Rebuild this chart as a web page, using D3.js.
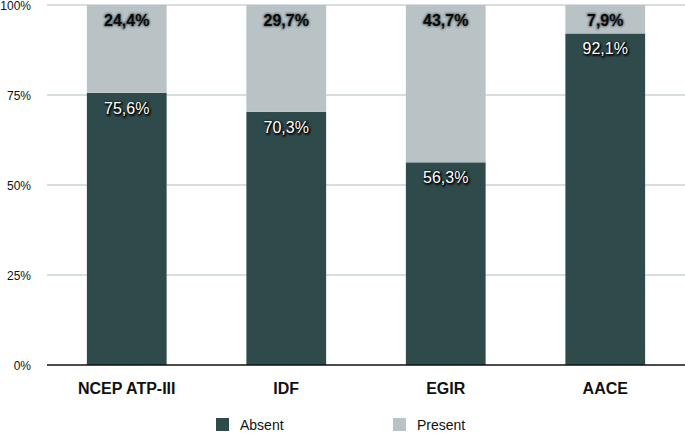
<!doctype html>
<html lang="en">
<head>
<meta charset="utf-8">
<script src="https://cdn.jsdelivr.net/npm/d3@7"></script>
<style>
  body { margin: 0; background: #fff; }
  text { font-family: "Liberation Sans", Arial, Helvetica, sans-serif; }
</style>
</head>
<body>
<div id="chart"></div>
<script>
var categories = ["NCEP ATP-III", "IDF", "EGIR", "AACE"];
var absent = [75.6, 70.3, 56.3, 92.1];
var present = [24.4, 29.7, 43.7, 7.9];
var yTicks = [0, 25, 50, 75, 100];
var seriesNames = ["Absent", "Present"];
var colors = ["#2f4a4b", "#b9c3c6"];

var width = 685, height = 433;
var margin = {top: 5, right: 0, bottom: 68, left: 47};

var svg = d3.select("#chart").append("svg")
    .attr("width", width).attr("height", height);

// soft blur used for the label shadows
svg.append("defs").append("filter").attr("id", "blur")
    .attr("x", "-30%").attr("y", "-60%").attr("width", "160%").attr("height", "220%")
  .append("feGaussianBlur").attr("stdDeviation", 1.3);

var x = d3.scaleBand().domain(categories)
    .range([margin.left, width - margin.right]).paddingInner(0.5).paddingOuter(0.25);
var y = d3.scaleLinear().domain([0, 100]).range([height - margin.bottom, margin.top]);

// grid
svg.append("g").selectAll("line").data(yTicks.filter(function(d){ return d > 0; }))
  .enter().append("line")
    .attr("x1", margin.left).attr("x2", width)
    .attr("y1", function(d){ return y(d); }).attr("y2", function(d){ return y(d); })
    .attr("stroke", "#aebdc2").attr("stroke-width", 1);

// y labels
svg.append("g").selectAll("text").data(yTicks).enter().append("text")
    .attr("x", 31).attr("y", function(d){ return y(d) + 5; })
    .attr("text-anchor", "end").attr("font-size", 12).attr("fill", "#111")
    .text(function(d){ return d + "%"; });

// bars
var data = categories.map(function(c, i){ return {cat: c, absent: absent[i], present: present[i]}; });

svg.append("g").selectAll("rect").data(data).enter().append("rect")
    .attr("x", function(d){ return x(d.cat); }).attr("width", x.bandwidth())
    .attr("y", function(d){ return y(d.absent); })
    .attr("height", function(d){ return y(0) - y(d.absent); })
    .attr("fill", colors[0]);

svg.append("g").selectAll("rect").data(data).enter().append("rect")
    .attr("x", function(d){ return x(d.cat); }).attr("width", x.bandwidth())
    .attr("y", function(d){ return y(d.absent + d.present); })
    .attr("height", function(d){ return y(d.absent) - y(d.absent + d.present); })
    .attr("fill", colors[1]);

// zero line
svg.append("line").attr("x1", margin.left).attr("x2", width)
    .attr("y1", y(0)).attr("y2", y(0)).attr("stroke", "#111").attr("stroke-width", 1.5);

function fmt(v){ return v.toFixed(1).replace(".", ",") + "%"; }

function labels(key, yPos, weight, fill, shade, dx, dy) {
  var g = svg.append("g");
  // shadow copy
  g.selectAll("text.s").data(data).enter().append("text")
      .attr("x", function(d){ return x(d.cat) + x.bandwidth() / 2 + dx; })
      .attr("y", function(d){ return yPos(d) + dy; })
      .attr("text-anchor", "middle").attr("font-size", 16).attr("font-weight", weight)
      .attr("fill", shade).attr("stroke", shade).attr("stroke-width", 1.5)
      .attr("filter", "url(#blur)")
      .text(function(d){ return fmt(d[key]); });
  g.selectAll("text.t").data(data).enter().append("text")
      .attr("x", function(d){ return x(d.cat) + x.bandwidth() / 2; })
      .attr("y", function(d){ return yPos(d); })
      .attr("text-anchor", "middle").attr("font-size", 16).attr("font-weight", weight)
      .attr("fill", fill)
      .text(function(d){ return fmt(d[key]); });
}

labels("present", function(){ return y(100) + 21; }, "bold", "#0a0a0a", "#5b6466", 0, 0);
labels("absent", function(d){ return y(d.absent) + 21; }, "normal", "#fff", "#000", 1, 1);

// category labels
svg.append("g").selectAll("text").data(categories).enter().append("text")
    .attr("x", function(d){ return x(d) + x.bandwidth() / 2; })
    .attr("y", y(0) + 29)
    .attr("text-anchor", "middle").attr("font-size", 16).attr("font-weight", "bold").attr("fill", "#111")
    .text(function(d){ return d; });

// legend
var legendX = [216, 393];
var lg = svg.append("g").selectAll("g").data(seriesNames).enter().append("g")
    .attr("transform", function(d, i){ return "translate(" + legendX[i] + ",418)"; });
lg.append("rect").attr("width", 13).attr("height", 13)
    .attr("fill", function(d, i){ return colors[i]; });
lg.append("text").attr("x", 24).attr("y", 12).attr("font-size", 14).attr("fill", "#111")
    .text(function(d){ return d; });
</script>
</body>
</html>
